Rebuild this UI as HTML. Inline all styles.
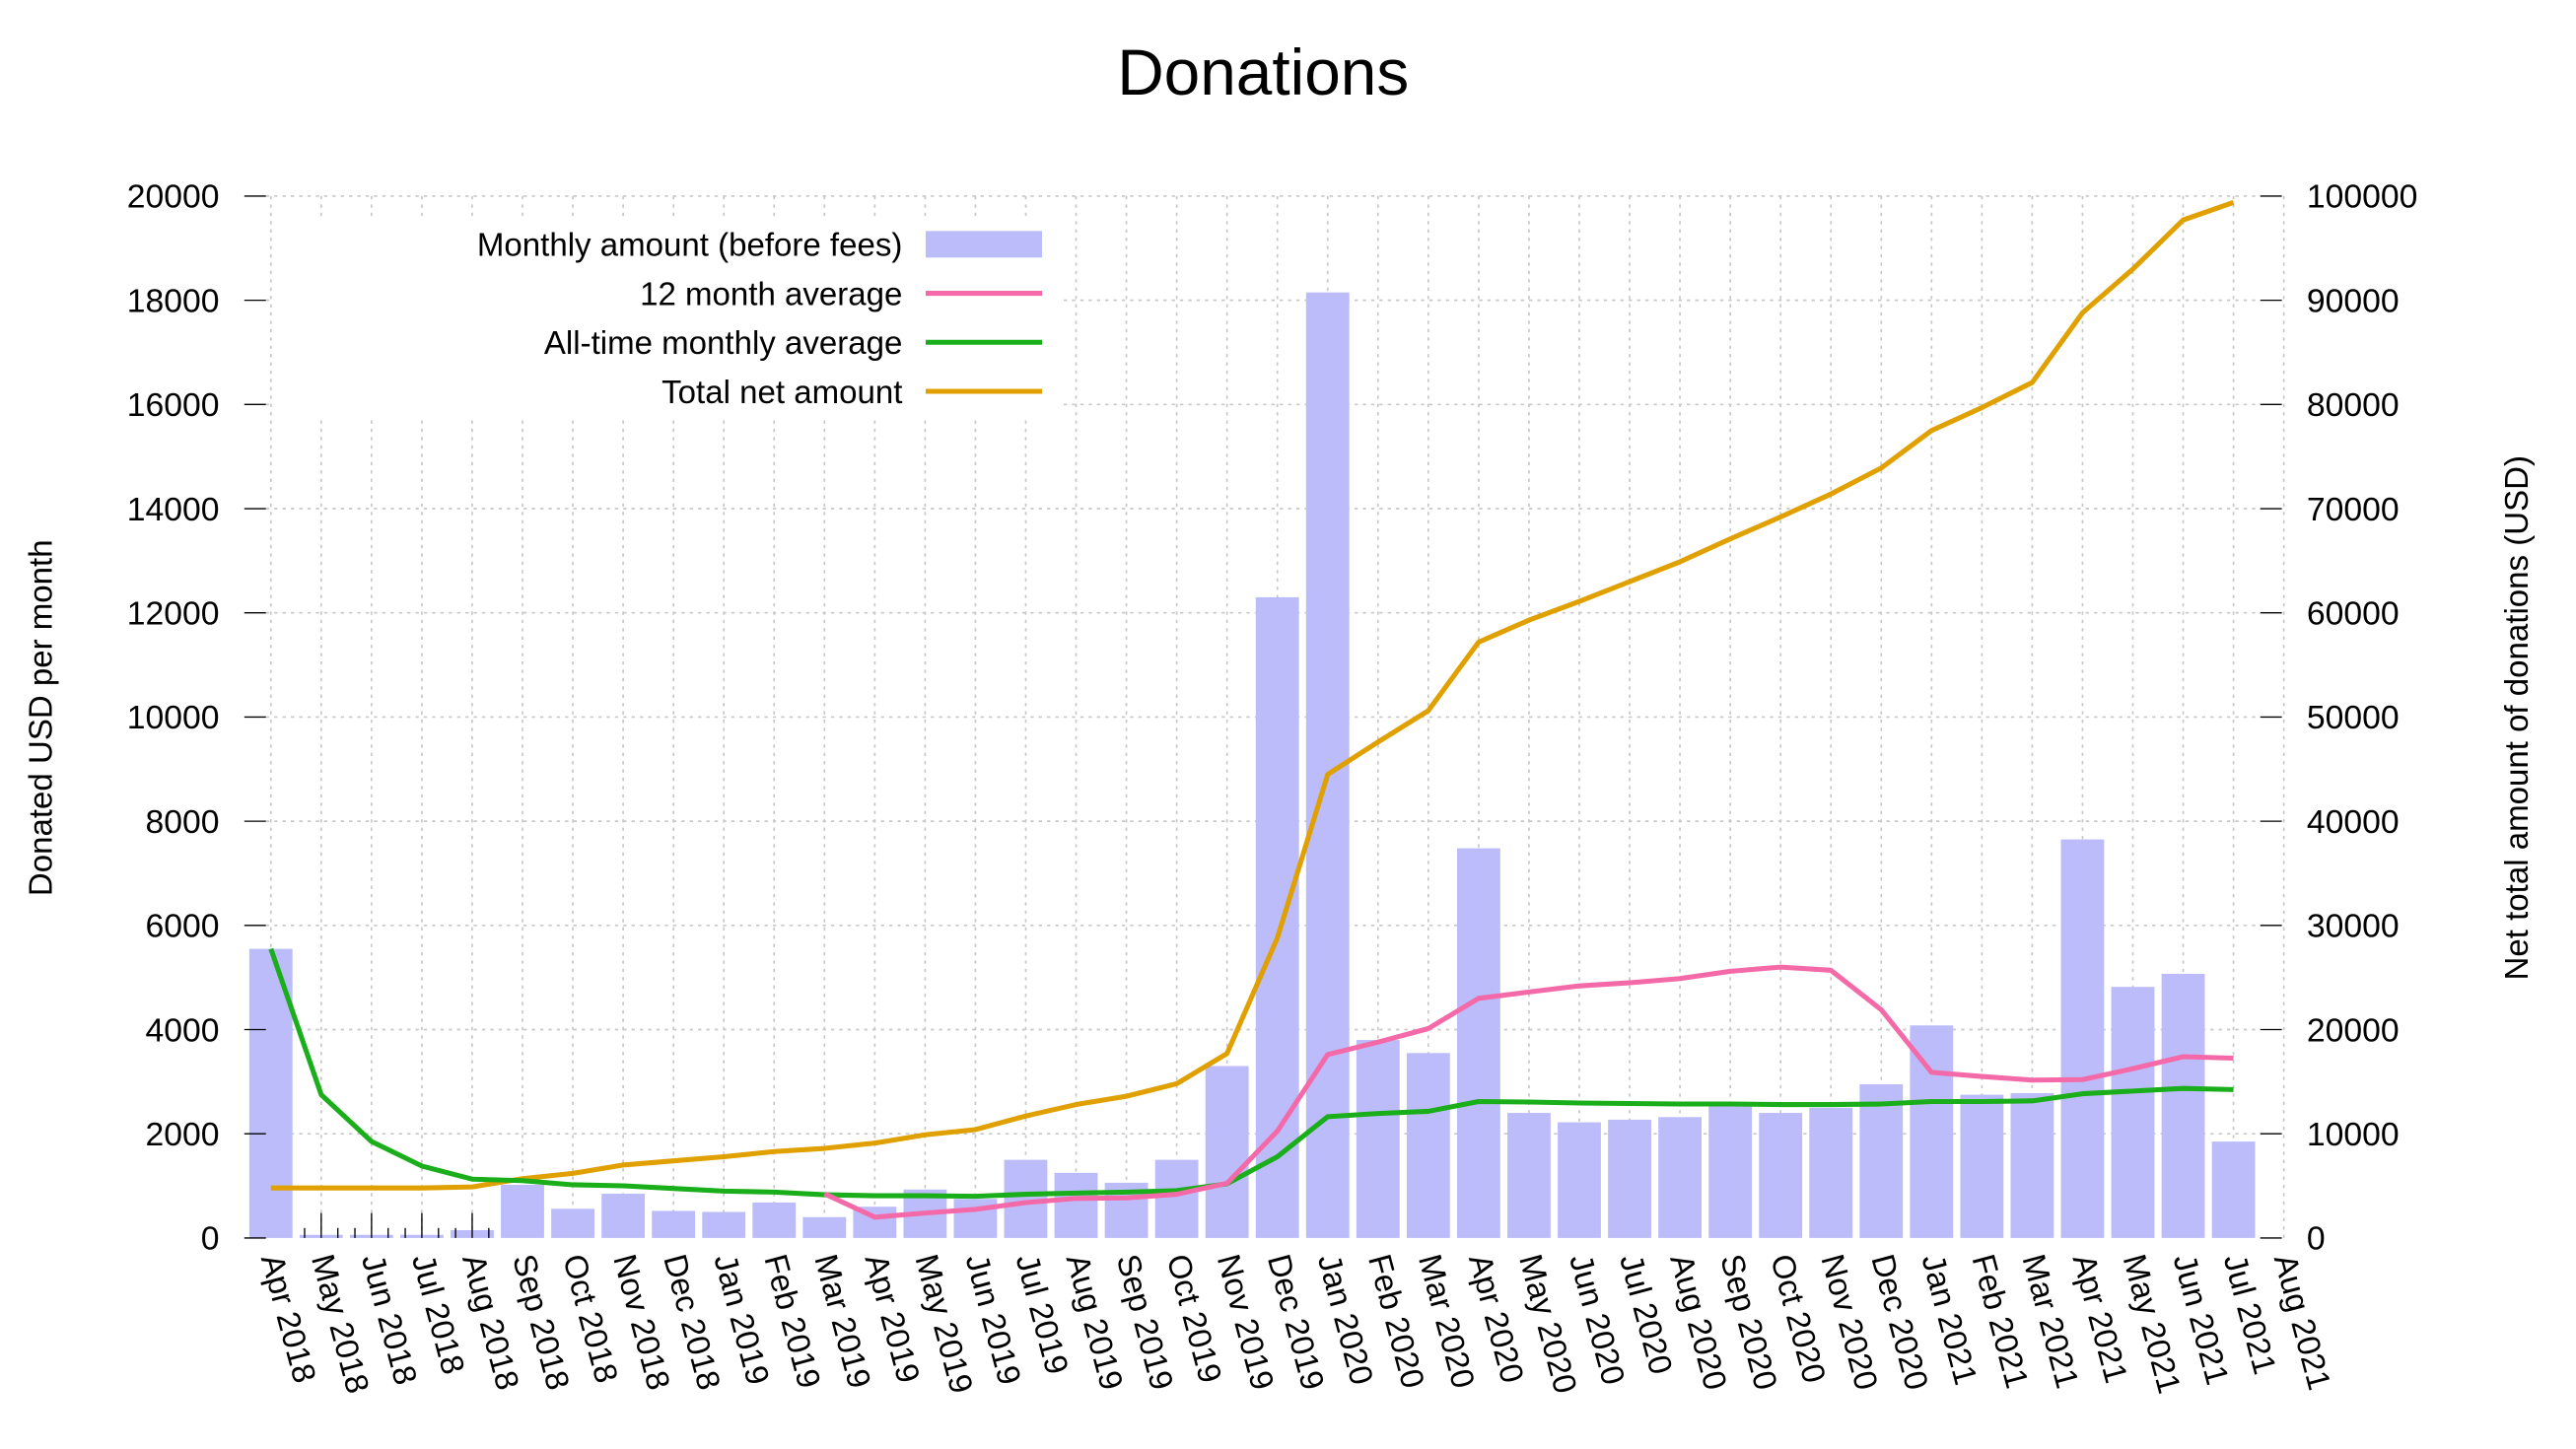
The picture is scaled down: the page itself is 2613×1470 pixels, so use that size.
<!DOCTYPE html>
<html><head><meta charset="utf-8"><style>
html,body{margin:0;padding:0;background:#fff;}
svg{display:block;font-family:"Liberation Sans",Arial,sans-serif;}
</style></head><body>
<svg id="chart" width="2613" height="1470" viewBox="0 0 1550 872" preserveAspectRatio="none" xmlns="http://www.w3.org/2000/svg">
<rect width="1550" height="872" fill="#fff"/>
<text x="760" y="57" font-size="39" text-anchor="middle">Donations</text>
<text transform="translate(31,432) rotate(-90)" font-size="19.6" text-anchor="middle">Donated USD per month</text>
<text transform="translate(1521,432) rotate(-90)" font-size="19.6" text-anchor="middle">Net total amount of donations (USD)</text>
<g id="grid"></g>
<g id="bars"></g>
<g id="lines"></g>
<g id="axes"></g>
<g id="legend"></g>
</svg>
<script>
const months = ["Apr 2018","May 2018","Jun 2018","Jul 2018","Aug 2018","Sep 2018","Oct 2018","Nov 2018","Dec 2018","Jan 2019","Feb 2019","Mar 2019","Apr 2019","May 2019","Jun 2019","Jul 2019","Aug 2019","Sep 2019","Oct 2019","Nov 2019","Dec 2019","Jan 2020","Feb 2020","Mar 2020","Apr 2020","May 2020","Jun 2020","Jul 2020","Aug 2020","Sep 2020","Oct 2020","Nov 2020","Dec 2020","Jan 2021","Feb 2021","Mar 2021","Apr 2021","May 2021","Jun 2021","Jul 2021","Aug 2021"];
const monthly = [5550,60,60,60,150,1020,560,850,520,500,680,400,600,930,750,1500,1250,1060,1500,3300,12300,18150,3800,3550,7480,2400,2220,2270,2320,2600,2400,2500,2950,4080,2750,2780,7650,4820,5070,1850];
const avg12 = [null,null,null,null,null,null,null,null,null,null,null,850,400,480,550,680,760,770,840,1050,2050,3520,3760,4020,4600,4720,4840,4900,4980,5120,5200,5140,4380,3180,3100,3030,3040,3250,3480,3450];
const avgAll = [5550,2750,1850,1380,1130,1100,1020,1000,950,900,880,830,810,810,800,840,860,880,910,1040,1560,2330,2390,2430,2620,2610,2590,2580,2570,2570,2560,2560,2570,2620,2620,2630,2770,2820,2870,2850];
const totalNet = [4800,4800,4800,4800,4900,5700,6200,7000,7400,7800,8300,8600,9100,9900,10400,11700,12800,13600,14800,17700,28800,44500,47600,50600,57200,59300,61100,63000,64900,67100,69200,71400,73900,77500,79700,82100,88800,93000,97700,99400];
const leftTicks = [0,2000,4000,6000,8000,10000,12000,14000,16000,18000,20000];
const rightTicks = [0,10000,20000,30000,40000,50000,60000,70000,80000,90000,100000];

const NS="http://www.w3.org/2000/svg";
const X0=163, DX=30.28, Y0=745, H=627;
const x=i=>X0+i*DX;
const yL=v=>Y0-v*H/20000;
const yR=v=>Y0-v*H/100000;
function mk(tag,attrs,parent){const e=document.createElementNS(NS,tag);for(const k in attrs)e.setAttribute(k,attrs[k]);parent.appendChild(e);return e;}
const grid=document.getElementById('grid'),bars=document.getElementById('bars'),lines=document.getElementById('lines'),axes=document.getElementById('axes'),legend=document.getElementById('legend');

leftTicks.forEach(v=>{if(v===0)return;const l=mk('line',{x1:160,x2:1360,y1:yL(v),y2:yL(v),stroke:'#c8c8c8','stroke-width':1,'stroke-dasharray':'2,3'},grid);

});
months.forEach((m,i)=>{const l=mk('line',{x1:x(i),x2:x(i),y1:118,y2:Y0,stroke:'#c8c8c8','stroke-width':1,'stroke-dasharray':'2,3'},grid);

});
const lb=mk('rect',{x:165,y:130,width:475,height:122,fill:'#fff'},grid);



monthly.forEach((v,i)=>{const r=mk('rect',{x:x(i)-13,y:yL(v),width:26,height:Y0-yL(v),fill:'#bcbcfa'},bars);

});
[1,2,3,4].forEach(i=>{[[-10,6],[0,15],[10,6]].forEach(([o,h])=>{const t=mk('line',{x1:x(i)+o,x2:x(i)+o,y1:Y0,y2:Y0-h,stroke:'#000','stroke-width':0.8},bars);

});});

function path(vals,yf,color,name){let d='';vals.forEach((v,i)=>{if(v===null)return;d+=(d?'L':'M')+x(i).toFixed(1)+','+yf(v).toFixed(1);});
const p=mk('path',{d:d,fill:'none',stroke:color,'stroke-width':3,'stroke-linejoin':'round'},lines);

}
path(totalNet,yR,'#e0a000','total-net-line');
path(avgAll,yL,'#1aae1a','all-time-average-line');
path(avg12,yL,'#f46aa8','12-month-average-line');

leftTicks.forEach(v=>{const t=mk('line',{x1:147,x2:160,y1:yL(v),y2:yL(v),stroke:'#000','stroke-width':0.8},axes);


const tx=mk('text',{x:132,y:yL(v)+7,'font-size':20,'text-anchor':'end'},axes);tx.textContent=v;

});
rightTicks.forEach(v=>{const t=mk('line',{x1:1360,x2:1373,y1:yR(v),y2:yR(v),stroke:'#000','stroke-width':0.8},axes);


const tx=mk('text',{x:1388,y:yR(v)+7,'font-size':20},axes);tx.textContent=v;

});
months.forEach((m,i)=>{const tx=mk('text',{transform:`translate(${x(i)-6},757) rotate(75)`,'font-size':19.5},axes);tx.textContent=m;

});

const items=[['Monthly amount (before fees)','bar','#bcbcfa'],['12 month average','line','#f46aa8'],['All-time monthly average','line','#1aae1a'],['Total net amount','line','#e0a000']];
items.forEach((it,k)=>{const yy=147+k*29.5;
const tx=mk('text',{x:543,y:yy+7,'font-size':19.6,'text-anchor':'end'},legend);tx.textContent=it[0];


let s;if(it[1]==='bar')s=mk('rect',{x:557,y:yy-8,width:70,height:16,fill:it[2]},legend);
else s=mk('line',{x1:557,x2:627,y1:yy,y2:yy,stroke:it[2],'stroke-width':3},legend);

});
</script>
</body></html>
